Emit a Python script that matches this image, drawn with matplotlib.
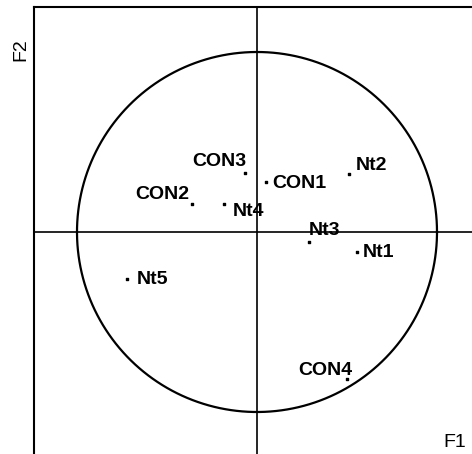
import numpy as np
import matplotlib.pyplot as plt

plt.rcParams['font.family'] = ['Liberation Sans', 'DejaVu Sans']

# Correlation circle, first two factors
labels = ["CON1", "CON2", "CON3", "CON4", "Nt1", "Nt2", "Nt3", "Nt4", "Nt5"]
f1 = [0.048, -0.363, -0.067, 0.498, 0.554, 0.513, 0.289, -0.183, -0.724]
f2 = [0.279, 0.156, 0.326, -0.818, -0.113, 0.321, -0.057, 0.156, -0.261]

# label offsets (pixels, to the baseline) and alignment
offsets = {
    "CON1": (7, -6, "left"),
    "CON2": (-2, 5, "right"),
    "CON3": (1, 7, "right"),
    "CON4": (6, 4, "right"),
    "Nt1": (6, -5, "left"),
    "Nt2": (6, 4, "left"),
    "Nt3": (0, 7, "left"),
    "Nt4": (9, -12, "left"),
    "Nt5": (10, -5, "left"),
}

W, H = 472, 454
fig = plt.figure(figsize=(W / 100, H / 100), dpi=100)
# frame runs past the right and bottom edges
left, top, right, bottom = 34, 7, 492, 474
ax = fig.add_axes([left / W, (H - bottom) / H, (right - left) / W, (bottom - top) / H])
cx, cy, scale = 257, 232, 180.0
ax.set_xlim((left - cx) / scale, (right - cx) / scale)
ax.set_ylim((cy - bottom) / scale, (cy - top) / scale)
ax.set_xticks([])
ax.set_yticks([])
for s in ax.spines.values():
    s.set_linewidth(1.5)

ax.axhline(0, color="black", lw=1.2)
ax.axvline(0, color="black", lw=1.2)

t = np.linspace(0, 2 * np.pi, 400)
ax.plot(np.cos(t), np.sin(t), color="black", lw=1.6)

ax.scatter(f1, f2, s=3, color="black", marker="s", zorder=3)
for name, x, y in zip(labels, f1, f2):
    dx, dy, ha = offsets[name]
    ax.annotate(name, (x, y), xytext=(dx, dy), textcoords="offset pixels",
                ha=ha, va="baseline", fontsize=14, fontweight="bold")

fig.text(443 / W, 1 - 447 / H, "F1", fontsize=14, ha="left", va="baseline")
fig.text(29 / W, 1 - 50 / H, "F2", fontsize=14, ha="right", va="center", rotation=90)

fig.savefig("out.png", dpi=100)
